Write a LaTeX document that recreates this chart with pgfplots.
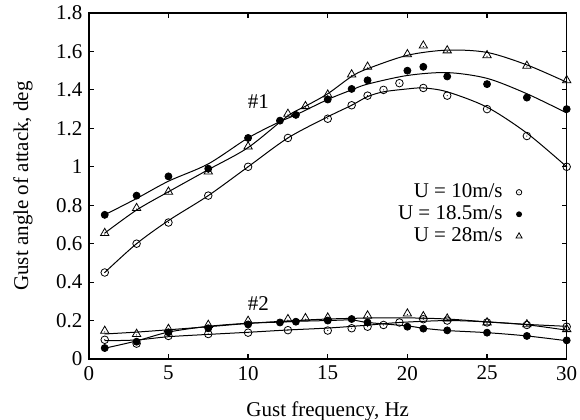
\documentclass[border=0pt]{standalone}
\usepackage{fontspec}
\setmainfont{Liberation Serif}
\usepackage{pgfplots}
\pgfplotsset{compat=1.18}

% open circle with a centre dot
\pgfdeclareplotmark{odot}{%
  \pgfpathcircle{\pgfpointorigin}{\pgfplotmarksize}\pgfusepathqstroke
  \pgfpathcircle{\pgfpointorigin}{0.3pt}\pgfusepathqfill}
% open triangle with a small dot inside
\pgfdeclareplotmark{tridot}{%
  \pgfpathmoveto{\pgfqpointpolar{90}{\pgfplotmarksize}}%
  \pgfpathlineto{\pgfqpointpolar{210}{\pgfplotmarksize}}%
  \pgfpathlineto{\pgfqpointpolar{330}{\pgfplotmarksize}}%
  \pgfpathclose\pgfusepathqstroke
  \pgfpathcircle{\pgfpoint{0pt}{-0.2\pgfplotmarksize}}{0.3pt}\pgfusepathqfill}

\begin{document}
\begin{tikzpicture}
\begin{axis}[
  scale only axis, width=238.95pt, height=173pt,
  xmin=0, xmax=30, ymin=0, ymax=1.8,
  xtick={0,5,10,15,20,25,30},
  ytick={0,0.2,0.4,0.6,0.8,1,1.2,1.4,1.6,1.8},
  tick align=inside, major tick length=2.5pt,
  axis line style={line width=0.75pt},
  every tick/.style={black, line width=0.6pt},
  font=\fontsize{10.5}{12}\selectfont,
  /pgf/number format/assume math mode=true,
  yticklabel style={xshift=0.3pt},
  xlabel={Gust frequency, Hz},
  ylabel={Gust angle of attack, deg},
  every axis y label/.style={at={(axis description cs:-0.1377,0.5)}, rotate=90, anchor=center},
  every axis x label/.style={at={(axis description cs:0.5,-0.15)}, anchor=center},
  legend plot pos=right,
  legend cell align=right,
  legend image code/.code={%
    \path (0pt,0pt);
    \draw[#1, mark options={scale=0.72}] plot coordinates {(6pt,0pt)};},
  legend style={at={(axis cs:27.6,0.955)}, anchor=north east, draw=none, fill=none,
    row sep=-1.5pt, font=\fontsize{10.5}{12}\selectfont},
  fit/.style={black, line width=0.5pt, smooth, no marks, forget plot},
]
% fitted curves, case #1
\addplot[fit] coordinates {(1,0.45) (3,0.60) (5,0.72) (7.5,0.85) (10,1.0) (12.5,1.15) (15,1.26) (16.5,1.32) (17.5,1.365) (18.5,1.39) (20,1.405) (21,1.41) (22.5,1.39) (25,1.31) (27.5,1.175) (30,1.0)};
\addplot[fit] coordinates {(1,0.75) (3,0.835) (5,0.925) (7.5,1.015) (10,1.15) (12,1.235) (13,1.27) (15,1.35) (16.5,1.40) (17.5,1.43) (20,1.475) (22.5,1.49) (25,1.46) (27.5,1.38) (30,1.28)};
\addplot[fit] coordinates {(1,0.655) (3,0.775) (5,0.87) (7.5,0.985) (10,1.10) (12.5,1.265) (13.6,1.315) (15,1.38) (16.5,1.47) (17.5,1.51) (20,1.58) (22.5,1.607) (25,1.595) (27.5,1.53) (30,1.44)};
% fitted curves, case #2
\addplot[fit] coordinates {(1,0.095) (3,0.099) (5,0.116) (7.5,0.128) (10,0.139) (12.5,0.151) (15,0.161) (17.5,0.176) (19.5,0.19) (22.5,0.20) (25,0.193) (27.5,0.18) (30,0.17)};
\addplot[fit] coordinates {(1,0.056) (3,0.094) (5,0.14) (7.5,0.17) (10,0.186) (12,0.192) (13,0.196) (15,0.20) (16.5,0.203) (17.5,0.19) (20,0.172) (21,0.16) (22.5,0.148) (25,0.137) (27.5,0.12) (30,0.095)};
\addplot[fit] coordinates {(1,0.13) (3,0.14) (5,0.152) (7.5,0.168) (10,0.185) (12.5,0.198) (15,0.208) (17.5,0.213) (20,0.214) (22.5,0.208) (25,0.193) (27.5,0.178) (30,0.15)};

% measured points, U = 10 m/s
\addplot[only marks, mark=odot, mark size=1.9pt, line width=0.4pt] coordinates {
  (1,0.45) (3,0.60) (5,0.71) (7.5,0.85) (10,1.00) (12.5,1.15) (15,1.25) (16.5,1.32) (17.5,1.37) (18.5,1.40) (19.5,1.435) (21,1.41) (22.5,1.37) (25,1.30) (27.5,1.16) (30,1.00)
  (1,0.10) (3,0.08) (5,0.12) (7.5,0.13) (10,0.137) (12.5,0.15) (15,0.148) (16.5,0.16) (17.5,0.168) (18.5,0.177) (19.5,0.19) (21,0.207) (22.5,0.20) (25,0.19) (27.5,0.177) (30,0.168)};
\addlegendentry{U = 10m/s}
% measured points, U = 18.5 m/s
\addplot[only marks, mark=*, mark size=1.75pt] coordinates {
  (1,0.75) (3,0.85) (5,0.95) (7.5,0.99) (10,1.15) (12,1.24) (13,1.27) (15,1.35) (16.5,1.405) (17.5,1.45) (20,1.50) (21,1.52) (22.5,1.47) (25,1.43) (27.5,1.36) (30,1.30)
  (1,0.057) (3,0.09) (5,0.139) (7.5,0.16) (10,0.18) (12,0.19) (13,0.194) (15,0.20) (16.5,0.208) (17.5,0.19) (20,0.168) (21,0.158) (22.5,0.149) (25,0.137) (27.5,0.12) (30,0.097)};
\addlegendentry{U = 18.5m/s}
% measured points, U = 28 m/s
\addplot[only marks, mark=tridot, mark size=2.4pt, line width=0.4pt] coordinates {
  (1,0.655) (3,0.785) (5,0.87) (7.5,0.975) (10,1.105) (12.5,1.275) (13.6,1.315) (15,1.375) (16.5,1.48) (17.5,1.52) (20,1.585) (21,1.63) (22.5,1.605) (25,1.58) (27.5,1.525) (30,1.45)
  (1,0.146) (3,0.13) (5,0.156) (7.5,0.177) (10,0.198) (12.5,0.207) (13.6,0.212) (15,0.215) (17.5,0.226) (20,0.236) (21,0.222) (22.5,0.21) (25,0.19) (27.5,0.18) (30,0.155)};
\addlegendentry{U = 28m/s}

\node at (axis cs:10.65,1.34) {\#1};
\node at (axis cs:10.65,0.29) {\#2};
\end{axis}
\pgfresetboundingbox
\useasboundingbox (-44.4pt,-30pt) rectangle (245.6pt,179.5pt);
\end{tikzpicture}
\end{document}
